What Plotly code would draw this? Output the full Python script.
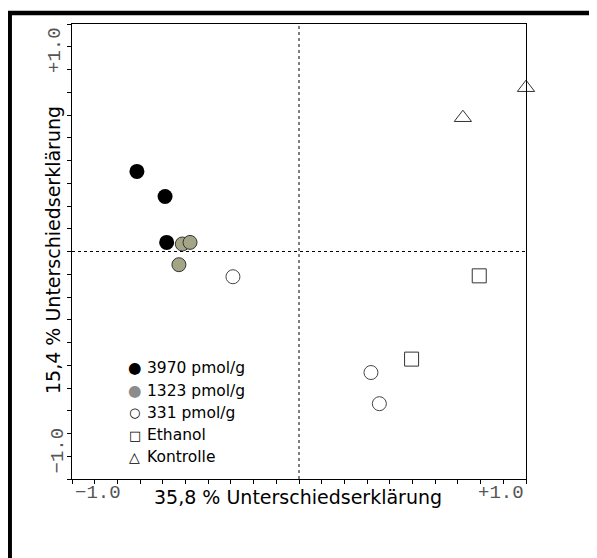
import plotly.graph_objects as go

# ---- data ----
x_3970 = [-0.714, -0.590, -0.583]
y_3970 = [0.352, 0.242, 0.040]
x_1323 = [-0.514, -0.480, -0.529]
y_1323 = [0.033, 0.040, -0.058]
x_331 = [-0.291, 0.317, 0.354]
y_331 = [-0.111, -0.532, -0.669]
x_eth = [0.496, 0.794]
y_eth = [-0.473, -0.107]
x_kon = [0.722, 1.0]
y_kon = [0.588, 0.720]

series_names = ["3970 pmol/g", "1323 pmol/g", "331 pmol/g", "Ethanol", "Kontrolle"]
legend_symbols = ["●", "●", "○", "□", "△"]
legend_symbol_colors = ["#000000", "#8c8c8c", "#000000", "#000000", "#000000"]
legend_symbol_sizes = [15.5, 15.5, 13, 13, 14]
x_title = "35,8 % Unterschiedserklärung"
y_title = "15,4 % Unterschiedserklärung"
tick_min = "−1.0"
tick_max = "+1.0"

# ---- layout geometry (pixels, in window coordinates) ----
WIDTH, HEIGHT = 597, 558
OFF = 8  # page body margin offset
L, R, T, B = 72, 526, 24, 479
PW, PH = R - L, B - T


def px(x):
    return (x - L) / PW


def py(y):
    return (B - y) / PH


fig = go.Figure()

fig.add_trace(go.Scatter(x=x_3970, y=y_3970, mode="markers", name=series_names[0],
                         marker=dict(symbol="circle", size=15, color="#000000",
                                     line=dict(width=0)),
                         cliponaxis=False, showlegend=False))
fig.add_trace(go.Scatter(x=x_1323, y=y_1323, mode="markers", name=series_names[1],
                         marker=dict(symbol="circle", size=14, color="#a4a487",
                                     line=dict(width=1, color="#333333")),
                         cliponaxis=False, showlegend=False))
fig.add_trace(go.Scatter(x=x_331, y=y_331, mode="markers", name=series_names[2],
                         marker=dict(symbol="circle", size=14, color="#ffffff",
                                     line=dict(width=1, color="#444444")),
                         cliponaxis=False, showlegend=False))
fig.add_trace(go.Scatter(x=x_eth, y=y_eth, mode="markers", name=series_names[3],
                         marker=dict(symbol="square", size=14, color="#ffffff",
                                     line=dict(width=1, color="#333333")),
                         cliponaxis=False, showlegend=False))
fig.add_trace(go.Scatter(x=x_kon, y=y_kon, mode="markers", name=series_names[4],
                         marker=dict(symbol="triangle-up-open", size=15, color="#333333",
                                     line=dict(width=1)),
                         cliponaxis=False, showlegend=False))

axis_common = dict(range=[-1, 1], showgrid=False, zeroline=False, showline=True,
                   linecolor="#000000", linewidth=1, mirror=True,
                   ticks="outside", ticklen=4, tickcolor="#000000", tickwidth=1,
                   tick0=-1, dtick=0.1, showticklabels=False)

fig.update_layout(
    width=WIDTH, height=HEIGHT,
    margin=dict(l=L - OFF, r=WIDTH - (R - OFF), t=T - OFF, b=HEIGHT - (B - OFF),
                autoexpand=False),
    paper_bgcolor="#ffffff", plot_bgcolor="#ffffff",
    xaxis=axis_common, yaxis=axis_common,
    showlegend=False,
)

# dashed cross lines through origin
fig.add_shape(type="line", x0=0, x1=0, y0=-1, y1=1, xref="x", yref="y",
              line=dict(color="#000000", width=1, dash="3px,3px"))
fig.add_shape(type="line", x0=-1, x1=1, y0=0, y1=0, xref="x", yref="y",
              line=dict(color="#000000", width=1, dash="3px,3px"))

# outer thick frame
fig.add_shape(type="rect", xref="paper", yref="paper",
              x0=px(9.7), x1=px(640), y0=py(600), y1=py(13),
              line=dict(color="#000000", width=4.5), fillcolor="rgba(0,0,0,0)",
              layer="above")

mono = dict(family="Liberation Mono", size=19, color="#555555")
sans_title = dict(family="DejaVu Sans", size=19, color="#000000")

anns = []
anns.append(dict(text=tick_min, x=px(72.5), y=py(493), xanchor="left", yanchor="middle", font=mono))
anns.append(dict(text=tick_max, x=px(526), y=py(493), xanchor="right", yanchor="middle", font=mono))
anns.append(dict(text=tick_max, x=px(55), y=py(50), xanchor="center", yanchor="middle", font=mono, textangle=-90))
anns.append(dict(text=tick_min, x=px(57), y=py(450.5), xanchor="center", yanchor="middle", font=mono, textangle=-90))
anns.append(dict(text=x_title, x=px(298), y=py(497), xanchor="center", yanchor="middle", font=sans_title))
anns.append(dict(text=y_title, x=px(53), y=py(250), xanchor="center", yanchor="middle", font=sans_title, textangle=-90))

leg_y = [368.3, 390.7, 412.7, 435.0, 457.3]
for sym, col, ssz, name, yy in zip(legend_symbols, legend_symbol_colors, legend_symbol_sizes,
                                   series_names, leg_y):
    anns.append(dict(text=sym, x=px(134.5), y=py(yy), xanchor="center", yanchor="middle",
                     font=dict(family="DejaVu Sans", size=ssz, color=col)))
    anns.append(dict(text=name, x=px(145), y=py(yy), xanchor="left", yanchor="middle",
                     font=dict(family="DejaVu Sans", size=15.5, color="#000000")))

for a in anns:
    a.update(xref="paper", yref="paper", showarrow=False)
    fig.add_annotation(**a)

fig.write_html("out.html")
